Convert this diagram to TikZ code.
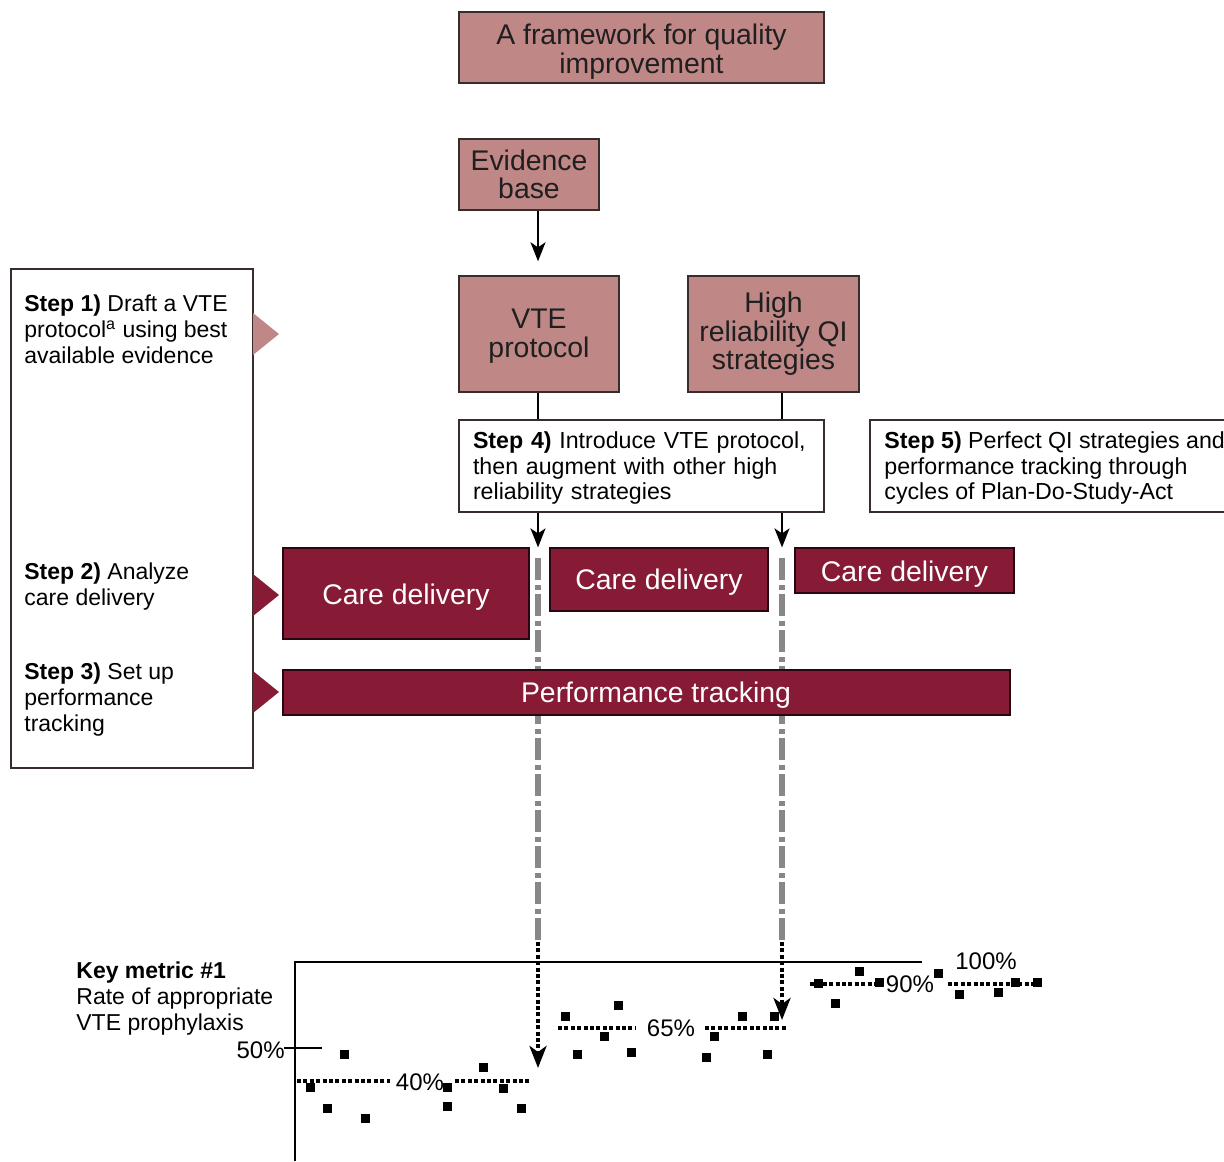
\documentclass[tikz,border=0pt]{standalone}
\usepackage{fontspec}
\setmainfont{Liberation Sans}
\usetikzlibrary{arrows.meta}
\definecolor{pinkfill}{RGB}{192,135,135}
\definecolor{wine}{RGB}{135,26,52}
\definecolor{darkline}{RGB}{55,45,45}
\definecolor{gline}{RGB}{135,135,135}
\newcommand{\lowertext}[2]{\raisebox{-#1}[\height][\depth]{#2}}
\begin{document}
\begin{tikzpicture}[x=0.5pt,y=-0.5pt,
  pinkbox/.style={draw=darkline, line width=0.7pt, fill=pinkfill, inner sep=0pt, align=center,
    font=\fontsize{14.2}{14.3}\selectfont, text=black!88},
  winebox/.style={draw=black!70!wine, line width=0.6pt, fill=wine, inner sep=0pt, align=center,
    font=\fontsize{14.2}{14.3}\selectfont, text=white},
  steptext/.style={inner sep=0pt, align=left, anchor=west, font=\fontsize{11.5}{13}\selectfont},
  whitebox/.style={draw=darkline, line width=0.6pt, fill=white},
  pct/.style={inner sep=0pt, font=\fontsize{12}{14}\selectfont},
  arr/.style={line width=1pt, -{Stealth[length=9.5pt,width=7.5pt,inset=2.5pt]}},
  dotarr/.style={line width=2pt, dash pattern=on 2pt off 1.2pt, -{Stealth[length=11pt,width=8.5pt,inset=3pt]}},
  grayline/.style={draw=gline, line width=2.6pt, dash pattern=on 11pt off 2.5pt on 2.5pt off 2pt},
  meanline/.style={line width=1.6pt, dash pattern=on 2pt off 1.2pt},
  axisline/.style={line width=0.6pt}
]
\useasboundingbox (0,0) rectangle (1224,1161);

% helper coordinates for the two vertical lines
\coordinate (L1) at (538,0);
\coordinate (L2) at (782,0);

% top boxes
\node[pinkbox, minimum width=182.5pt, minimum height=35.5pt] (title) at (641.5,47.5)
  {\lowertext{2pt}{\parbox{180pt}{\centering A framework for quality\\improvement}}};
\node[pinkbox, minimum width=70pt, minimum height=35.5pt] (ev) at (529,174.5)
  {Evidence\\base};
\node[pinkbox, minimum width=80pt, minimum height=58pt] (vte) at (539,334)
  {\lowertext{1pt}{\parbox{78pt}{\centering VTE\\protocol}}};
\node[pinkbox, minimum width=85.5pt, minimum height=58pt] (hi) at (773.5,334)
  {High\\reliability QI\\strategies};

% left box with steps
\node[whitebox, minimum width=121pt, minimum height=249.5pt, inner sep=0pt] (lb) at (132,518.5) {};
\node[steptext] (s1) at (24,329.5) {\textbf{Step 1)} Draft a VTE\\protocol\textsuperscript{a} using best\\available evidence};
\node[steptext] (s2) at (24,587) {\textbf{Step 2)} Analyze\\care delivery};
\node[steptext] (s3) at (24,700) {\textbf{Step 3)} Set up\\performance\\tracking};

% triangles
\fill[pinkfill] (253,313) -- (279,334) -- (253,355) -- cycle;
\fill[wine] (253,574) -- (279,595) -- (253,616) -- cycle;
\fill[wine] (253,671) -- (279,692) -- (253,713) -- cycle;

% step 4 box
\node[whitebox, minimum width=182.5pt, minimum height=46pt, inner xsep=7pt, inner ysep=0pt,
  text width=168.5pt, align=left, font=\fontsize{11.6}{12.75}\selectfont] (s4) at (641.5,466)
  {\lowertext{1pt}{\parbox{168.5pt}{\textbf{Step 4)} Introduce VTE protocol,\\then augment with other high\\reliability strategies}}};

% step 5 open box
\coordinate (s5a) at (1224,420);
\coordinate (s5b) at (870,512);
\coordinate (s5c) at (1224,512);
\draw[darkline, line width=0.6pt] (s5a) -| (s5b) -- (s5c);
\node[steptext, font=\fontsize{11.6}{12.75}\selectfont] (s5) at (884,468)
  {\textbf{Step 5)} Perfect QI strategies and\\performance tracking through\\cycles of Plan-Do-Study-Act};

% connectors
\draw[arr] (ev.south -| L1) -- ([yshift=7pt]vte.north -| L1);
\draw[line width=1pt] (vte.south -| L1) -- (s4.north -| L1);
\draw[line width=1pt] (hi.south -| L2) -- (s4.north -| L2);

% care delivery boxes
\node[winebox, minimum width=123pt, minimum height=45.5pt] (c1) at (406,593.5) {\lowertext{2pt}{Care delivery}};
\node[winebox, minimum width=109pt, minimum height=31.5pt] (c2) at (659,579.5) {\lowertext{1.5pt}{Care delivery}};
\node[winebox, minimum width=109.5pt, minimum height=22.5pt] (c3) at (904.5,570.5) {\lowertext{1.8pt}{Care delivery}};

\draw[arr] (s4.south -| L1) -- (c2.north -| L1);
\draw[arr] (s4.south -| L2) -- (c2.north -| L2);

% gray dash-dot lines
\coordinate (g1a) at (538,558);
\coordinate (g1b) at (538,942);
\coordinate (g2a) at (782,558);
\coordinate (g2b) at (782,942);
\draw[grayline] (g1a) -- (g1b);
\draw[grayline] (g2a) -- (g2b);

% performance tracking bar
\node[winebox, minimum width=363.5pt, minimum height=22.5pt] (pt) at (646.5,692.5) {\lowertext{1.5pt}{\hspace*{9.5pt}Performance tracking}};

% chart
\node[inner sep=0pt, align=left, anchor=west, font=\fontsize{11.5}{13}\selectfont] (km) at (76,999)
  {\textbf{Key metric \#1}\\Rate of appropriate\\VTE prophylaxis};
\coordinate (ax0) at (295,962);
\coordinate (ax1) at (295,1161);
\coordinate (ax2) at (922,962);
\draw[axisline] (ax1) -- (ax0) -- (ax2);
\coordinate (t0) at (284,1048);
\coordinate (t1) at (322,1048);
\draw[axisline] (t0) -- (t1);
\node[pct, anchor=east] (p50) at (285,1050) {50\%};
\node[pct] (p40) at (420,1082) {40\%};
\node[pct] (p65) at (671,1028) {65\%};
\node[pct] (p90) at (910,984) {90\%};
\node[pct] (p100) at (986,961) {100\%};

\draw[meanline] (297,1081) -- (390,1081);
\draw[meanline] (455,1081) -- (531,1081);
\draw[meanline] (558,1028) -- (635,1028);
\draw[meanline] (705,1028) -- (788,1028);
\draw[meanline] (810,984) -- (880,984);
\draw[meanline] (948,984) -- (1040,984);

\foreach \x/\y in {310/1087, 327/1108, 344/1054, 365/1118, 447/1087, 447/1106, 483/1067, 503/1088, 521/1108,
  565/1016, 577/1054, 604/1036, 618/1005, 631/1052, 706/1057, 714/1036, 742/1016, 767/1054, 774/1016,
  818/983, 835/1003, 859/971, 879/982, 938/973, 959/994, 998/992, 1015/982, 1037/982}
  \fill (\x-4.5,\y-4.5) rectangle (\x+4.5,\y+4.5);

% dotted arrows into chart
\coordinate (m1) at (538,1068);
\coordinate (m2) at (782,1020);
\draw[dotarr] (g1b) -- (m1);
\draw[dotarr] (g2b) -- (m2);
\end{tikzpicture}
\end{document}
